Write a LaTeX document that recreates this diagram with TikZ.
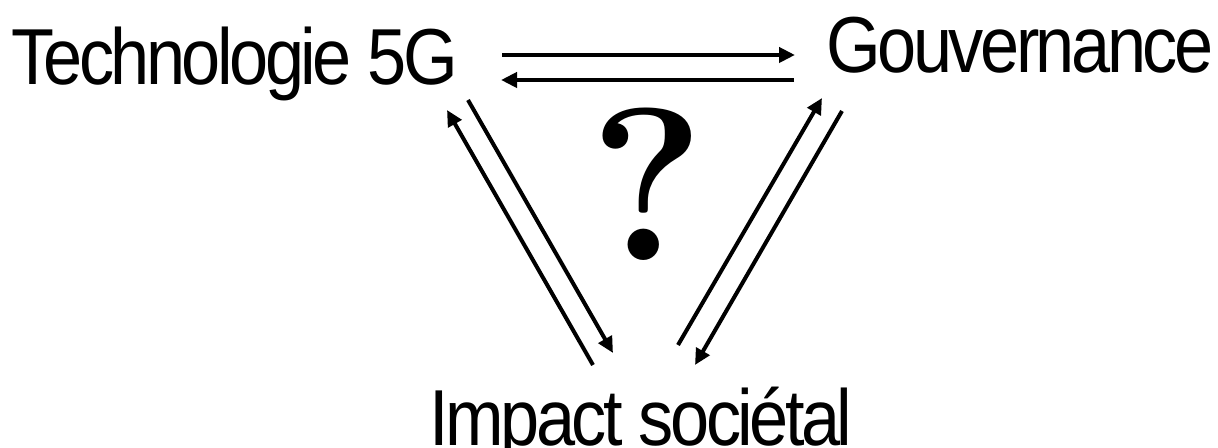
\documentclass[tikz,border=0pt]{standalone}
\usepackage{fontspec}
\newfontfamily\labelfont[LetterSpace=-5]{Liberation Sans}
\usetikzlibrary{arrows.meta}
\tikzset{
	label/.style={inner sep=0pt,anchor=base,font=\labelfont\fontsize{40}{45}\selectfont},
	rel/.style={line width=0.08cm}
}
\newcommand{\tall}[1]{\scalebox{1}[1.13]{#1}}
\begin{document}
\begin{tikzpicture}[x=0.02cm,y=-0.02cm,>={Triangle[length=0.32cm,width=0.3cm]}]
			\useasboundingbox (0,0) rectangle (1218,448);
			\node[label] (T) at (235,85) {\tall{Technologie 5G}};
			\node[label] (G) at (1020,73) {\tall{Gouvernance}};
			\node[label] (I) at (641,446) {\tall{Impact sociétal}};
			\node[inner sep=0pt,anchor=base,font=\bfseries\fontsize{124}{130}\selectfont] (Q) at (647,261) {?};
			% ends of the connectors
			\coordinate (TG1) at (502,55);  \coordinate (GT1) at (795,55);
			\coordinate (GT2) at (794,80);  \coordinate (TG2) at (501,80);
			\coordinate (IT1) at (593,365); \coordinate (TI1) at (447,110);
			\coordinate (TI2) at (468,100); \coordinate (IT2) at (613,353);
			\coordinate (IG1) at (678,345); \coordinate (GI1) at (822,98);
			\coordinate (GI2) at (842,111); \coordinate (IG2) at (695,365);
			\draw [rel,->] (TG1) -- (GT1);
			\draw [rel,->] (GT2) -- (TG2);
			\draw [rel,->] (IT1) -- (TI1);
			\draw [rel,->] (TI2) -- (IT2);
			\draw [rel,->] (IG1) -- (GI1);
			\draw [rel,->] (GI2) -- (IG2);
		\end{tikzpicture}
\end{document}
